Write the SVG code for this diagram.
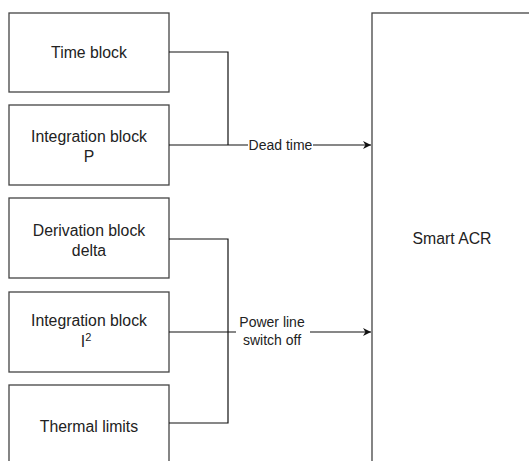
<svg xmlns="http://www.w3.org/2000/svg" width="529" height="461" viewBox="0 0 529 461">
<defs>
<style>
.box{fill:#fff;stroke:#444;stroke-width:1.3}
.t{font-family:"Liberation Sans",Arial,sans-serif;font-size:15.8px;fill:#222;text-anchor:middle}
.c{fill:none;stroke:#111;stroke-width:1.2}
.lbl{font-family:"Liberation Sans",Arial,sans-serif;font-size:14px;fill:#222;text-anchor:middle}
</style>
<marker id="ah" viewBox="0 0 10 10" refX="10" refY="5" markerWidth="8" markerHeight="8" orient="auto" markerUnits="userSpaceOnUse">
<path d="M0,0 L10,5 L0,10 L3,5 Z" fill="#111"/>
</marker>
</defs>
<rect width="529" height="461" fill="#fff"/>
<g id="time"><rect class="box" x="9" y="13" width="160" height="79"/><text class="t" x="89" y="58">Time block</text></g>
<g id="intP"><rect class="box" x="9" y="105" width="160" height="80"/><text class="t" x="89" y="142">Integration block</text><text class="t" x="89" y="162">P</text></g>
<g id="deriv"><rect class="box" x="9" y="198" width="160" height="80"/><text class="t" x="89" y="236">Derivation block</text><text class="t" x="89" y="256">delta</text></g>
<g id="intI2"><rect class="box" x="9" y="292" width="160" height="80"/><text class="t" x="89" y="326">Integration block</text><text class="t" x="86" y="347">I<tspan font-size="11" dy="-6">2</tspan></text></g>
<g id="thermal"><rect class="box" x="9" y="385" width="160" height="80"/><text class="t" x="89" y="432">Thermal limits</text></g>
<g id="acr"><rect class="box" x="372" y="13" width="160" height="454"/><text class="t" x="452" y="244">Smart ACR</text></g>
<g id="connectors">
<path class="c" d="M169,52 H228 V145"/>
<path class="c" d="M169,145 H248"/>
<path class="c" d="M313,145 H371" marker-end="url(#ah)"/>
<text class="lbl" x="280.5" y="150">Dead time</text>
<path class="c" d="M169,239 H228 V423 H169"/>
<path class="c" d="M169,332 H236"/>
<path class="c" d="M310,332 H371" marker-end="url(#ah)"/>
<text class="lbl" x="272" y="327">Power line</text>
<text class="lbl" x="272" y="345">switch off</text>
</g>
</svg>
